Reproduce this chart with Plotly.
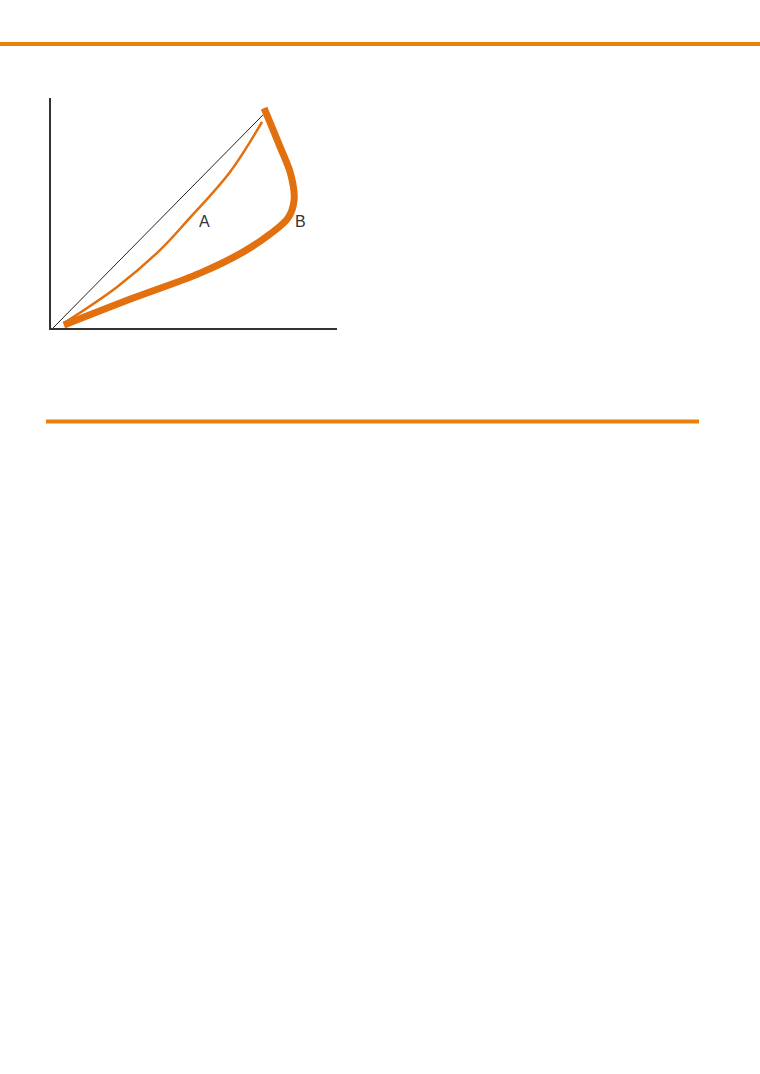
import plotly.graph_objects as go

# Diagonal reference line
diag_x = [0.07, 7.41]
diag_y = [0.0, 7.41]

# Curve A (thin)
a_x = [0.45, 2.31, 3.81, 4.79, 6.26, 7.38]
a_y = [0.17, 1.43, 2.71, 3.76, 5.43, 7.17]

# Curve B (thick)
b_x = [0.45, 2.87, 5.21, 6.71, 7.66, 8.29, 8.50, 8.39, 8.01, 7.45]
b_y = [0.10, 1.04, 1.91, 2.64, 3.27, 3.83, 4.45, 5.32, 6.30, 7.65]

labels = ["A", "B"]
label_x = [5.38, 8.74]
label_y = [3.69, 3.69]

W, H = 760, 1074
CURVE = "#E2700F"
RULE = "#E8800A"

fig = go.Figure()
fig.add_trace(go.Scatter(x=diag_x, y=diag_y, mode="lines",
                         line=dict(color="#222222", width=1), hoverinfo="skip"))
fig.add_trace(go.Scatter(x=a_x, y=a_y, mode="lines", line_shape="spline",
                         line=dict(color=CURVE, width=2.5, smoothing=1), hoverinfo="skip"))
fig.add_trace(go.Scatter(x=b_x, y=b_y, mode="lines", line_shape="spline",
                         line=dict(color=CURVE, width=7, smoothing=1), hoverinfo="skip"))

for t, x, y in zip(labels, label_x, label_y):
    fig.add_annotation(x=x, y=y, text=t, showarrow=False,
                       font=dict(family="Liberation Sans, Arial", size=16, color="#333333"))

# orange rules
fig.add_shape(type="line", xref="paper", yref="paper", x0=0, x1=1,
              y0=1 - 44 / H, y1=1 - 44 / H, line=dict(color=RULE, width=4))
fig.add_shape(type="line", xref="paper", yref="paper", x0=46 / W, x1=699 / W,
              y0=1 - 421.5 / H, y1=1 - 421.5 / H, line=dict(color=RULE, width=4))

fig.update_layout(
    width=W, height=H, margin=dict(l=0, r=0, t=0, b=0),
    paper_bgcolor="white", plot_bgcolor="white", showlegend=False,
    xaxis=dict(domain=[51 / W, 337 / W], range=[0, 10], showgrid=False, zeroline=False,
               showticklabels=False, ticks="", showline=True, linecolor="#333333", linewidth=2),
    yaxis=dict(domain=[1 - 328 / H, 1 - 98 / H], range=[0, 8], showgrid=False, zeroline=False,
               showticklabels=False, ticks="", showline=True, linecolor="#333333", linewidth=2),
)

fig.write_html("out.html", config={"displayModeBar": False},
               post_script="document.body.style.margin='0';")
